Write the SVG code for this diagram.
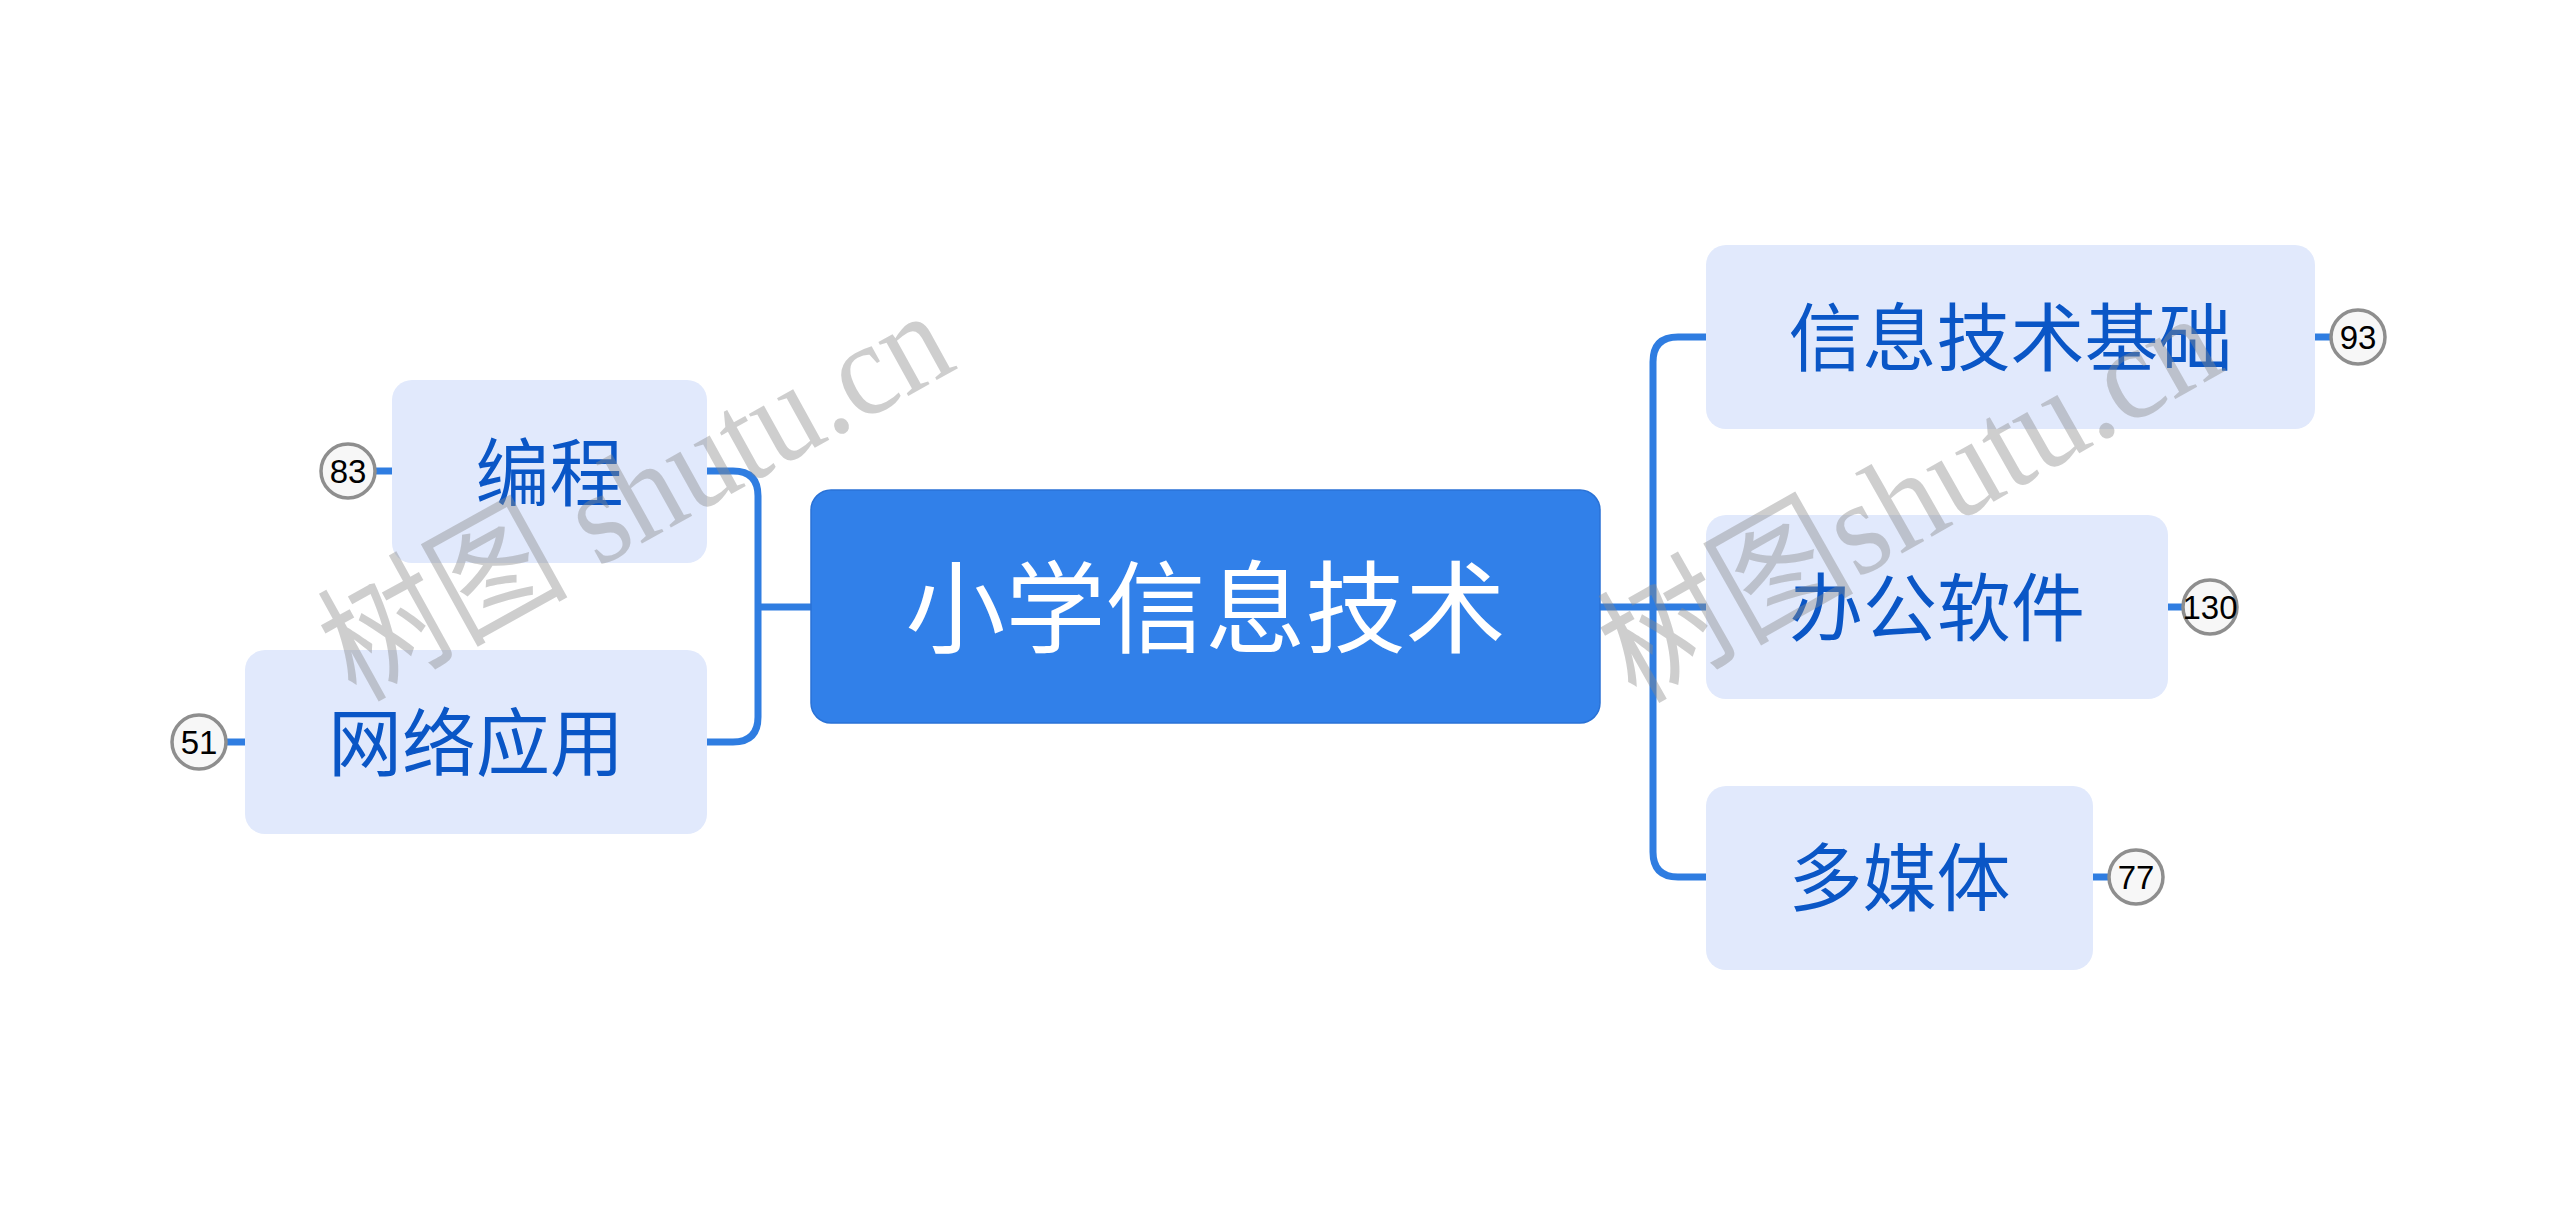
<svg xmlns="http://www.w3.org/2000/svg" width="2560" height="1215" viewBox="0 0 2560 1215">
<style>
.conn{fill:none;stroke:#2f7de1;stroke-width:7;stroke-linecap:butt;stroke-linejoin:round}
.sub{fill:#e1e9fc}
.subt{font-family:"Noto Sans CJK SC","Noto Sans",sans-serif;font-size:74px;fill:#0a56c6;text-anchor:middle}
.roott{font-family:"Noto Sans CJK SC","Noto Sans",sans-serif;font-size:100px;fill:#ffffff;text-anchor:middle}
.badge{fill:#f7f7f7;stroke:#8e8e8e;stroke-width:3.5}
.bt{font-family:"Liberation Sans",Arial,sans-serif;font-size:33px;fill:#000;text-anchor:middle}
.wm{font-family:"Liberation Serif","Noto Sans CJK SC",serif;font-size:134px;fill:#8a8a8a;fill-opacity:0.42}
</style>
<rect width="2560" height="1215" fill="#ffffff"/>
<g id="connectors">
<path class="conn" d="M707,471 H733 Q758,471 758,496 V717 Q758,742 733,742 H707"/>
<path class="conn" d="M758,607 H811"/>
<path class="conn" d="M1600,607 H1706"/>
<path class="conn" d="M1706,337 H1678 Q1653,337 1653,362 V852 Q1653,877 1678,877 H1706"/>
<path class="conn" d="M375,471 H392"/>
<path class="conn" d="M226,742 H245"/>
<path class="conn" d="M2315,337 H2332"/>
<path class="conn" d="M2168,607 H2184"/>
<path class="conn" d="M2093,877 H2110"/>
</g>
<g id="root">
<rect x="811" y="490" width="789" height="233" rx="20" fill="#3180e9" stroke="#2a72d6" stroke-width="1.5"/>
<text class="roott" x="1205.5" y="645">小学信息技术</text>
</g>
<g id="node-biancheng">
<rect class="sub" x="392" y="380" width="315" height="183" rx="20"/>
<text class="subt" x="549.5" y="500">编程</text>
<circle class="badge" cx="348" cy="471" r="27"/>
<text class="bt" x="348" y="483">83</text>
</g>
<g id="node-wangluo">
<rect class="sub" x="245" y="650" width="462" height="184" rx="20"/>
<text class="subt" x="476" y="770">网络应用</text>
<circle class="badge" cx="199" cy="742" r="27"/>
<text class="bt" x="199" y="754">51</text>
</g>
<g id="node-jichu">
<rect class="sub" x="1706" y="245" width="609" height="184" rx="20"/>
<text class="subt" x="2010.5" y="365">信息技术基础</text>
<circle class="badge" cx="2358" cy="337" r="27"/>
<text class="bt" x="2358" y="349">93</text>
</g>
<g id="node-bangong">
<rect class="sub" x="1706" y="515" width="462" height="184" rx="20"/>
<text class="subt" x="1937" y="635">办公软件</text>
<circle class="badge" cx="2210" cy="607" r="27"/>
<text class="bt" x="2210" y="619">130</text>
</g>
<g id="node-duomeiti">
<rect class="sub" x="1706" y="786" width="387" height="184" rx="20"/>
<text class="subt" x="1899.5" y="905">多媒体</text>
<circle class="badge" cx="2136" cy="877" r="27"/>
<text class="bt" x="2136" y="889">77</text>
</g>
<g id="watermarks">
<text class="wm" transform="translate(356,702) rotate(-29)" textLength="690" lengthAdjust="spacingAndGlyphs">树图 shutu.cn</text>
<text class="wm" transform="translate(1636,704) rotate(-29.5)" textLength="680" lengthAdjust="spacingAndGlyphs">树图shutu.cn</text>
</g>
</svg>
